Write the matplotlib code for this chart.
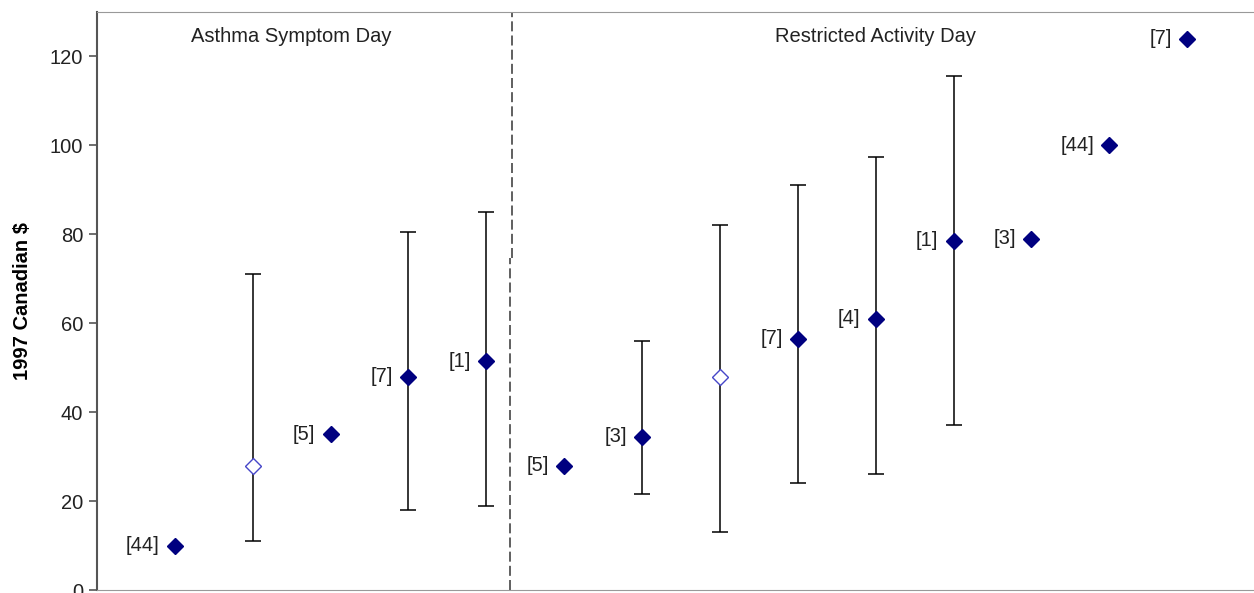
import numpy as np
import matplotlib.pyplot as plt

plt.rcParams['font.family'] = ['Liberation Sans', 'DejaVu Sans']

# study positions (left panel: asthma symptom day, right: restricted activity day)
xpos = [1, 2, 3, 4, 5, 6, 7, 8, 9, 10, 11, 12, 13, 14]
values = [10, 28, 35, 48, 51.5, 28, 34.5, 48, 56.5, 61, 78.5, 79, 100, 124]
refs = ['[44]', '', '[5]', '[7]', '[1]', '[5]', '[3]', '', '[7]', '[4]', '[1]', '[3]', '[44]', '[7]']
hollow = [False, True, False, False, False, False, False, True, False, False, False, False, False, False]
err_low = [None, 11, None, 18, 19, None, 21.5, 13, 24, 26, 37, None, None, None]
err_high = [None, 71, None, 80.5, 85, None, 56, 82, 91, 97.5, 115.5, None, None, None]

panel_titles = ['Asthma Symptom Day', 'Restricted Activity Day']
panel_title_x = [2.5, 10]

fig = plt.figure(figsize=(12.54, 5.93), dpi=100)
ax = fig.add_axes([97 / 1254, 3 / 593, 1168 / 1254, 578 / 593])

# error bars
for x, v, lo, hi in zip(xpos, values, err_low, err_high):
    if lo is None:
        continue
    ax.errorbar([x], [v], yerr=[[v - lo], [hi - v]], fmt='none', ecolor='black',
                elinewidth=1.1, capsize=6, capthick=1.1, zorder=2)

# markers
for x, v, h in zip(xpos, values, hollow):
    if h:
        ax.plot(x, v, 'D', ms=8, mfc='white', mec='#4646c8', mew=1.0, zorder=3)
    else:
        ax.plot(x, v, 'D', ms=8, mfc='#000080', mec='#000080', zorder=3)

# reference labels
for x, v, r in zip(xpos, values, refs):
    if r:
        ax.annotate(r, (x, v), xytext=(-11, 0), textcoords='offset points',
                    ha='right', va='center', fontsize=14.5, color='#222222')

# dashed divider between the two panels (slight jog part way down)
ax.axvline(5.325, ymin=0.574, ymax=1, color='#444444', lw=1.2, ls=(0, (6, 2.5)), zorder=1)
ax.axvline(5.305, ymin=0, ymax=0.574, color='#444444', lw=1.2, ls=(0, (6, 2.5)), zorder=1)

for t, tx in zip(panel_titles, panel_title_x):
    ax.text(tx, 124.5, t, ha='center', va='center', fontsize=14.5, color='#222222')

ax.set_xlim(0, 15)
ax.set_ylim(0, 130)
ax.set_yticks(np.arange(0, 121, 20))
ax.set_xticks([])
ax.tick_params(axis='y', direction='out', length=6, width=1.2, colors='#555555',
               labelcolor='#222222', labelsize=14.5, pad=4)
ax.set_ylabel('1997 Canadian $', fontsize=14.5, fontweight='bold', labelpad=13)

for s in ['left', 'top', 'bottom']:
    ax.spines[s].set_color('#555555')
ax.spines['left'].set_linewidth(1.5)
ax.spines['top'].set_color('#999999')
ax.spines['bottom'].set_color('#999999')
ax.spines['right'].set_visible(False)

fig.savefig('out.png', dpi=100)
